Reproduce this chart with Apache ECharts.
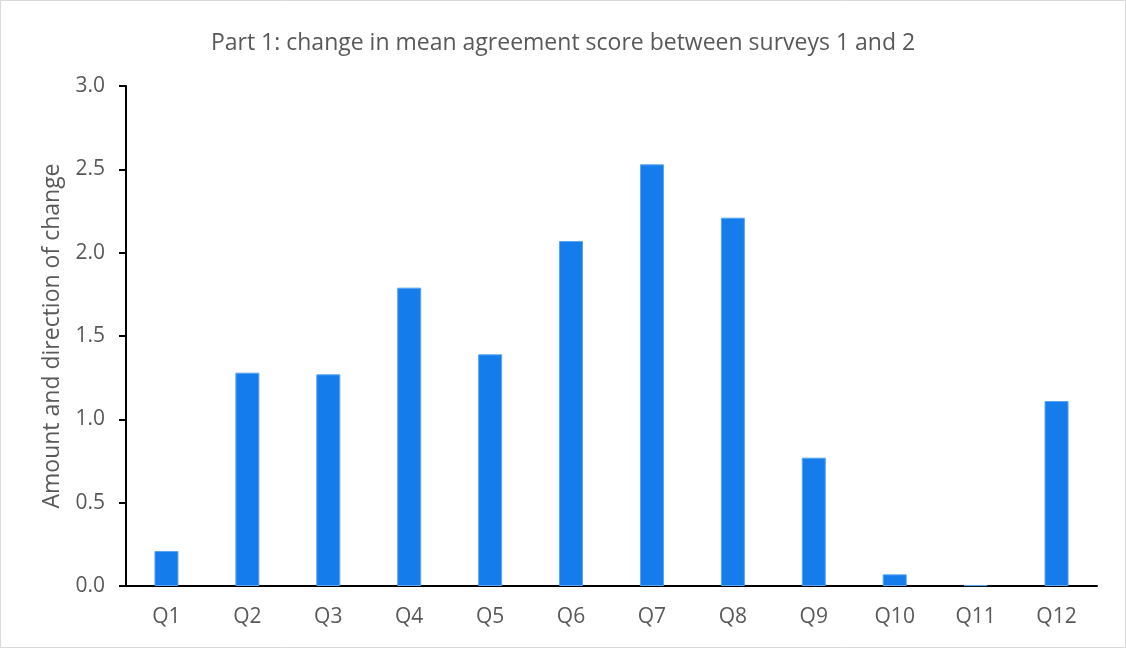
<!DOCTYPE html>
<html>
<head>
<meta charset="utf-8">
<script src="https://cdn.jsdelivr.net/npm/echarts@6/dist/echarts.min.js"></script>
<style>
  html, body { margin: 0; padding: 0; background: #fff; }
  #ec { width: 1126px; height: 648px; }
</style>
</head>
<body>
<div id="ec"></div>
<script>
const categories = ['Q1', 'Q2', 'Q3', 'Q4', 'Q5', 'Q6', 'Q7', 'Q8', 'Q9', 'Q10', 'Q11', 'Q12']
const changeValues = [0.21, 1.28, 1.27, 1.79, 1.39, 2.07, 2.53, 2.21, 0.77, 0.07, 0.005, 1.11]
const yTicks = [0, 0.5, 1.0, 1.5, 2.0, 2.5, 3.0]

const chart = echarts.init(document.getElementById('ec'))
chart.setOption({
  animation: false,
  backgroundColor: '#fff',
  textStyle: { fontFamily: 'Open Sans' },
  title: {
    text: 'Part 1: change in mean agreement score between surveys 1 and 2',
    left: 'center',
    top: 27,
    textStyle: {
      color: '#595959',
      fontSize: 23,
      fontWeight: 'normal',
      fontFamily: 'Open Sans'
    }
  },
  graphic: [
    {
      type: 'rect',
      z: -1,
      shape: { x: 0.5, y: 0.5, width: 1125, height: 647 },
      style: { fill: 'none', stroke: '#d9d9d9', lineWidth: 1 }
    }
  ],
  grid: {
    left: 126,
    right: 29,
    top: 86,
    bottom: 62
  },
  xAxis: {
    type: 'category',
    data: categories,
    axisLine: { lineStyle: { color: '#000', width: 2 } },
    axisTick: { alignWithLabel: true, length: 7, lineStyle: { color: '#000', width: 2 } },
    axisLabel: { color: '#595959', fontSize: 21, margin: 21 }
  },
  yAxis: {
    type: 'value',
    min: yTicks[0],
    max: yTicks[yTicks.length - 1],
    interval: 0.5,
    name: 'Amount and direction of change',
    nameLocation: 'middle',
    nameGap: 62,
    nameTextStyle: { color: '#595959', fontSize: 23 },
    axisLine: { show: true, lineStyle: { color: '#000', width: 2 } },
    axisTick: { show: true, length: 7, lineStyle: { color: '#000', width: 2 } },
    splitLine: { show: false },
    axisLabel: {
      color: '#595959',
      fontSize: 21,
      margin: 21,
      formatter: v => v.toFixed(1)
    }
  },
  series: [
    {
      type: 'bar',
      data: changeValues,
      barWidth: 24,
      itemStyle: {
        color: '#157CEB',
        borderColor: '#5aa4f0',
        borderWidth: 1
      }
    }
  ]
})
</script>
</body>
</html>
